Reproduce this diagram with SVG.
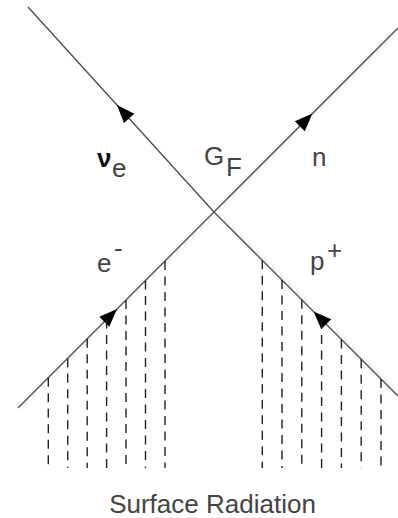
<svg xmlns="http://www.w3.org/2000/svg" width="398" height="518" viewBox="0 0 398 518">
<style>
.ln{stroke:#4a4a4a;stroke-width:1.3;fill:none}
.ds{stroke:#222;stroke-width:1.4;stroke-dasharray:9 6.5;fill:none}
.t{font-family:"Liberation Sans",Arial,sans-serif;font-size:26px;fill:#444}
.arr{fill:#000}
</style>
<defs>
<path id="ah" d="M0,0 L-18,-7 L-18,7 Z"/>
</defs>
<rect width="398" height="518" fill="#fff"/>
<g id="connectors">
<line class="ln" x1="18" y1="408" x2="214" y2="212"/>
<line class="ln" x1="214" y1="212" x2="398" y2="28"/>
<line class="ln" x1="398" y1="396" x2="214" y2="212"/>
<line class="ln" x1="214" y1="212" x2="28" y2="7"/>
<use href="#ah" class="arr" transform="translate(117,105) rotate(227.8)"/>
<use href="#ah" class="arr" transform="translate(312.5,113.5) rotate(-45)"/>
<use href="#ah" class="arr" transform="translate(117,309) rotate(-45)"/>
<use href="#ah" class="arr" transform="translate(313.5,311.5) rotate(225)"/>
</g>
<g id="radiation-left">
<line class="ds" x1="48.3" y1="377.7" x2="48.3" y2="468"/>
<line class="ds" x1="67.7" y1="358.3" x2="67.7" y2="468"/>
<line class="ds" x1="87.2" y1="338.8" x2="87.2" y2="468"/>
<line class="ds" x1="106.6" y1="319.4" x2="106.6" y2="468"/>
<line class="ds" x1="126" y1="300" x2="126" y2="468"/>
<line class="ds" x1="145.5" y1="280.5" x2="145.5" y2="468"/>
<line class="ds" x1="165" y1="261" x2="165" y2="468"/>
</g>
<g id="radiation-right">
<line class="ds" x1="262.3" y1="260.3" x2="262.3" y2="468"/>
<line class="ds" x1="282" y1="280" x2="282" y2="468"/>
<line class="ds" x1="301.8" y1="299.8" x2="301.8" y2="468"/>
<line class="ds" x1="321.6" y1="319.6" x2="321.6" y2="468"/>
<line class="ds" x1="341.4" y1="339.4" x2="341.4" y2="468"/>
<line class="ds" x1="361.2" y1="359.2" x2="361.2" y2="468"/>
<line class="ds" x1="381" y1="379" x2="381" y2="468"/>
</g>
<g id="nu-e">
<text class="t" x="97" y="167" style="font-weight:bold;fill:#111">ν</text>
<text class="t" x="112" y="177">e</text>
</g>
<g id="GF">
<text class="t" x="204" y="165">G</text>
<text class="t" x="226" y="176">F</text>
</g>
<g id="n"><text class="t" x="312" y="166">n</text></g>
<g id="e-minus">
<text class="t" x="97" y="272">e</text>
<text class="t" x="114" y="257">-</text>
</g>
<g id="p-plus">
<text class="t" x="310" y="270">p</text>
<text class="t" x="327" y="259">+</text>
</g>
<g id="caption"><text class="t" x="212.5" y="513" text-anchor="middle">Surface Radiation</text></g>
</svg>
